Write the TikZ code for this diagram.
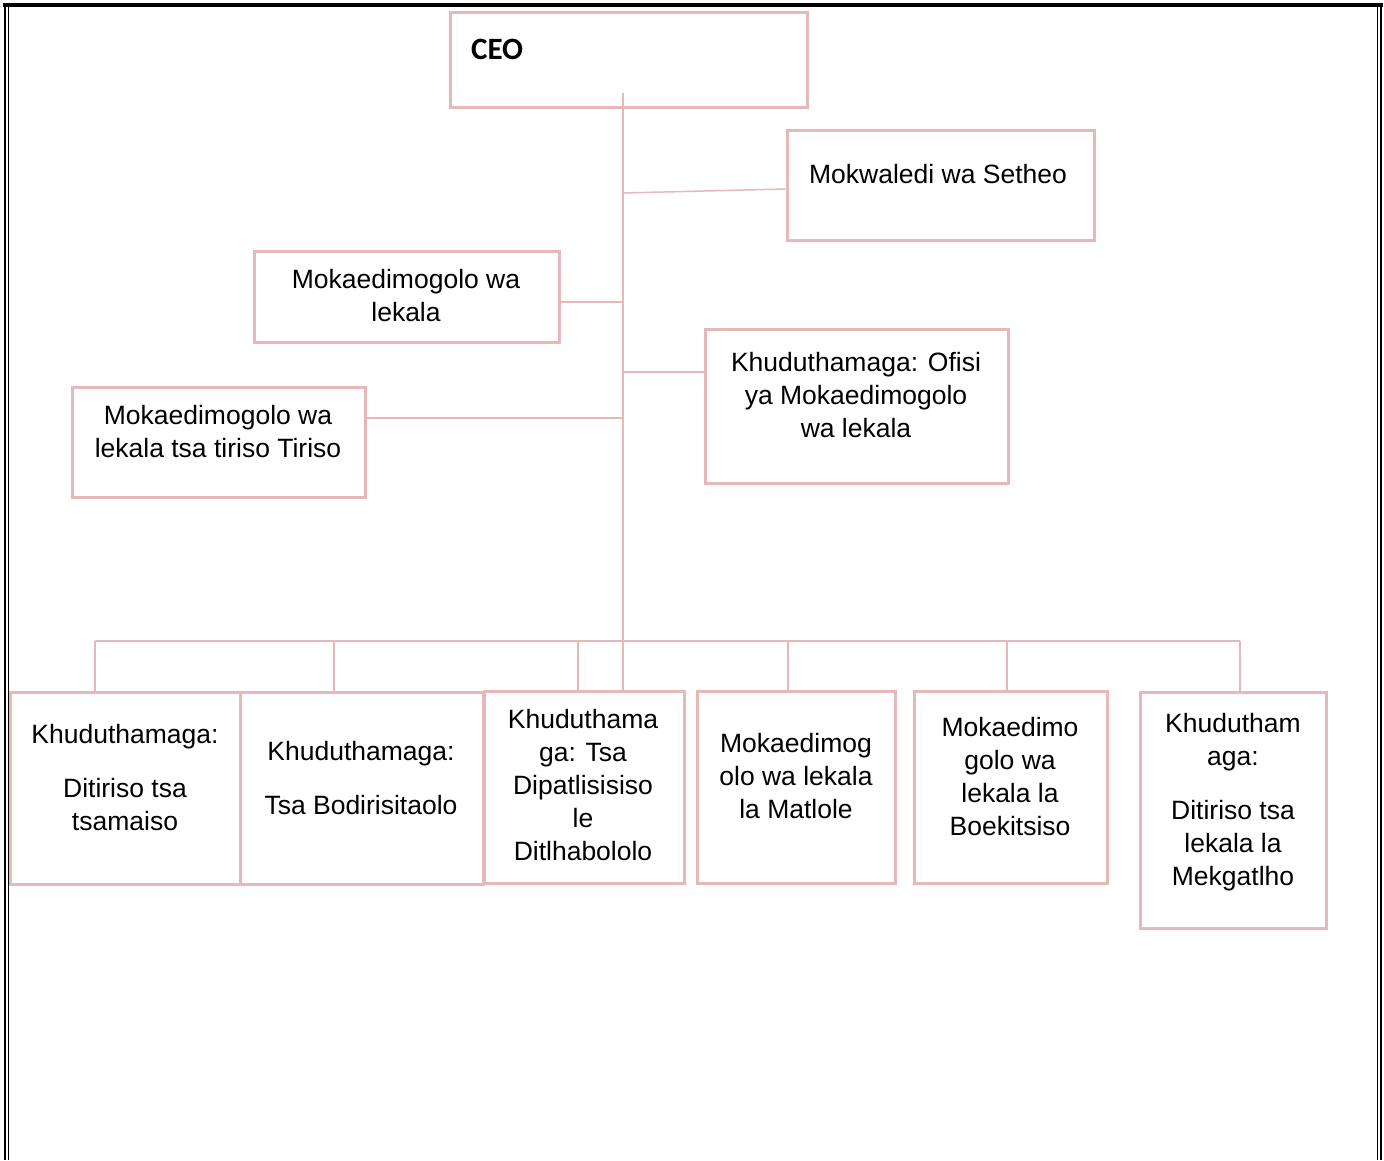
\documentclass[tikz,border=0pt]{standalone}
\usepackage{fontspec}
\setmainfont{Liberation Sans}
\newfontfamily\calib{Carlito}
\definecolor{pk}{HTML}{E6B9B8}
\begin{document}
\begin{tikzpicture}[x=1pt,y=-1pt,
  box/.style={draw=pk,line width=3pt,inner sep=0pt},
  lbl/.style={align=center,inner sep=0pt,font=\fontsize{26.5}{33}\selectfont},
  conn/.style={draw=pk,line width=1.5pt}]
\useasboundingbox (0,0) rectangle (1384,1160);
% page frame
\draw[line width=4.5pt] (3,5) -- (1383,5);
\draw[line width=2.4pt] (4.9,3) -- (4.9,1160);
\draw[line width=1.1pt] (8.6,7) -- (8.6,1160);
\draw[line width=2.4pt] (1381.2,3) -- (1381.2,1160);
\draw[line width=1.1pt] (1377.4,7) -- (1377.4,1160);
% boxes
\node[box,minimum width=357pt,minimum height=95pt] (ceo) at (628.5,59.5) {};
\node[box,minimum width=307pt,minimum height=110pt] (set) at (940.5,185) {};
\node[box,minimum width=305pt,minimum height=91pt] (lek) at (406.5,296.5) {};
\node[box,minimum width=303pt,minimum height=154pt] (ofi) at (856.5,406) {};
\node[box,minimum width=293pt,minimum height=110pt] (tir) at (218.5,442) {};
\node[box,minimum width=230pt,minimum height=192pt] (b1) at (125,788) {};
\node[box,minimum width=243pt,minimum height=192pt] (b2) at (361.5,788) {};
\node[box,minimum width=200pt,minimum height=192pt] (b3) at (584,787) {};
\node[box,minimum width=198pt,minimum height=192pt] (b4) at (796,787) {};
\node[box,minimum width=193pt,minimum height=192pt] (b5) at (1010.5,787) {};
\node[box,minimum width=186pt,minimum height=236pt] (b6) at (1233,810) {};
% texts
\node[anchor=west,inner sep=0pt,font=\calib\bfseries\fontsize{31}{36}\selectfont] (tceo) at (471,49) {CEO};
\node[lbl] (tset) at (938,174.5) {Mokwaledi wa Setheo};
\node[lbl] (tlek) at (406,295.5) {Mokaedimogolo wa\\lekala};
\node[lbl] (tofi) at (856,395.5) {Khuduthamaga: Ofisi\\ya Mokaedimogolo\\wa lekala};
\node[lbl] (ttir) at (218,431.5) {Mokaedimogolo wa\\lekala tsa tiriso Tiriso};
\node[lbl] (tb1) at (125,778) {Khuduthamaga:\\[21pt]Ditiriso tsa\\tsamaiso};
\node[lbl] (tb2) at (361,778) {Khuduthamaga:\\[21pt]Tsa Bodirisitaolo};
\node[lbl] (tb3) at (583,785) {Khuduthama\\ga: Tsa\\Dipatlisisiso\\le\\Ditlhabololo};
\node[lbl] (tb4) at (796,776.5) {Mokaedimog\\olo wa lekala\\la Matlole};
\node[lbl] (tb5) at (1010,777) {Mokaedimo\\golo wa\\lekala la\\Boekitsiso};
\node[lbl] (tb6) at (1233,802.3) {Khudutham\\aga:\\[21pt]Ditiriso tsa\\lekala la\\Mekgatlho};
% connectors
\coordinate (t0) at (623,93);
\coordinate (j1) at (623,193);
\coordinate (j2) at (623,302);
\coordinate (j3) at (623,372);
\coordinate (j4) at (623,418);
\coordinate (d1) at (95,641);
\coordinate (d2) at (334,641);
\coordinate (d3) at (578,641);
\coordinate (d4) at (788,641);
\coordinate (d5) at (1007,641);
\coordinate (d6) at (1240,641);
\draw[conn] (t0) -- (t0 |- b3.north);
\draw[conn] (j1) -- ([yshift=-4pt]set.west);
\draw[conn] (lek.east |- j2) -- (j2);
\draw[conn] (j3) -- (ofi.west |- j3);
\draw[conn] (tir.east |- j4) -- (j4);
\draw[conn] (d1) -- (d6);
\draw[conn] (d1) -- (d1 |- b1.north);
\draw[conn] (d2) -- (d2 |- b2.north);
\draw[conn] (d3) -- (d3 |- b3.north);
\draw[conn] (d4) -- (d4 |- b4.north);
\draw[conn] (d5) -- (d5 |- b5.north);
\draw[conn] (d6) -- (d6 |- b6.north);
\end{tikzpicture}
\end{document}
